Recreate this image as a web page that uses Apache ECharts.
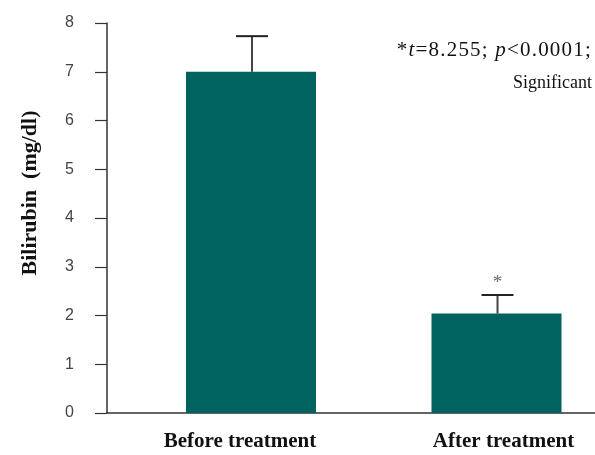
<!DOCTYPE html>
<html>
<head>
<meta charset="utf-8">
<script src="https://cdn.jsdelivr.net/npm/echarts@6/dist/echarts.min.js"></script>
<style>html,body{margin:0;padding:0;background:#fff}#c{width:595px;height:455px}</style>
</head>
<body>
<div id="c"></div>
<script>
const categories = ['Before treatment', 'After treatment'];
const means = [7.0, 2.04];
const errors = [0.73, 0.38];
const sigMarks = ['', '*'];
const yTicks = [0, 1, 2, 3, 4, 5, 6, 7, 8];

const chart = echarts.init(document.getElementById('c'));
const serif = '"Liberation Serif", "Times New Roman", serif';

function spaced(str, italicSet) {
  let out = '';
  for (let k = 0; k < str.length; k++) {
    const tag = italicSet.has(k) ? 'i' : 'n';
    out += '{' + tag + '|' + str[k] + '}';
  }
  return out;
}
const statText = '*t=8.255; p<0.0001;';
const italicIdx = new Set([1, 10]);

// small horizontal nudges of the category labels, as in the reference layout
const labelPads = [[0, 22, 0, 0], [0, 0, 0, 14]];

chart.setOption({
  animation: false,
  backgroundColor: '#fff',
  grid: [
    { left: 107, right: 0, top: 23, bottom: 42 },
    { left: 251, width: 245.5, top: 23, bottom: 42 }
  ],
  xAxis: [
    { gridIndex: 0, type: 'category', data: [''], axisTick: { show: false }, axisLabel: { show: false },
      axisLine: { lineStyle: { color: '#333', width: 1.5 } } },
    { gridIndex: 1, type: 'category', boundaryGap: false,
      data: categories.map((c, i) => ({ value: c, textStyle: { padding: labelPads[i] } })),
      axisTick: { show: false }, axisLine: { show: false },
      axisLabel: { margin: 18, fontFamily: serif, fontWeight: 'bold', fontSize: 21, color: '#111' } }
  ],
  yAxis: [
    { gridIndex: 0, type: 'value', min: yTicks[0], max: yTicks[yTicks.length - 1], interval: 1,
      splitLine: { show: false },
      axisLine: { show: true, lineStyle: { color: '#333', width: 1.5 } },
      axisTick: { show: true, length: 12, lineStyle: { color: '#333', width: 1.2 } },
      axisLabel: { margin: 33, fontFamily: '"Liberation Sans", Arial, sans-serif', fontSize: 16, color: '#444' } },
    { gridIndex: 1, type: 'value', min: yTicks[0], max: yTicks[yTicks.length - 1], show: false }
  ],
  series: [
    { type: 'bar', xAxisIndex: 1, yAxisIndex: 1, data: means, barWidth: 130, clip: false,
      itemStyle: { color: '#00635F' }, z: 2 },
    { type: 'custom', xAxisIndex: 1, yAxisIndex: 1, z: 3, clip: false,
      data: means.map((m, i) => [i, m, m + errors[i]]),
      renderItem: function (params, api) {
        const i = api.value(0);
        const base = api.coord([i, api.value(1)]);
        const top = api.coord([i, api.value(2)]);
        const half = 16;
        const children = [
          { type: 'line', shape: { x1: base[0] + 1, y1: base[1], x2: top[0] + 1, y2: top[1] },
            style: { stroke: '#444', lineWidth: 2 } },
          { type: 'line', shape: { x1: top[0] - half + 1, y1: top[1], x2: top[0] + half + 1, y2: top[1] },
            style: { stroke: '#222', lineWidth: 2 } }
        ];
        const mark = sigMarks[params.dataIndex];
        if (mark) {
          children.push({ type: 'text', style: { text: mark, x: top[0] + 1, y: top[1] - 3,
            align: 'center', verticalAlign: 'bottom', font: '19px ' + serif, fill: '#666' } });
        }
        return { type: 'group', children: children };
      }
    }
  ],
  graphic: [
    { type: 'text', rotation: Math.PI / 2, x: 30, y: 193,
      style: { text: 'Bilirubin  (mg/dl)', font: 'bold 22px ' + serif, fill: '#111',
        align: 'center', verticalAlign: 'middle' } },
    { type: 'text', x: 592, y: 50,
      style: {
        text: spaced(statText, italicIdx),
        align: 'right', verticalAlign: 'middle',
        rich: {
          n: { font: '21px ' + serif, fill: '#111', padding: [0, 1.2, 0, 0] },
          i: { font: 'italic 21px ' + serif, fill: '#111', padding: [0, 1.2, 0, 0] }
        }
      } },
    { type: 'text', x: 592, y: 83,
      style: { text: 'Significant', font: '18px ' + serif, fill: '#111', align: 'right', verticalAlign: 'middle' } }
  ]
});
</script>
</body>
</html>
